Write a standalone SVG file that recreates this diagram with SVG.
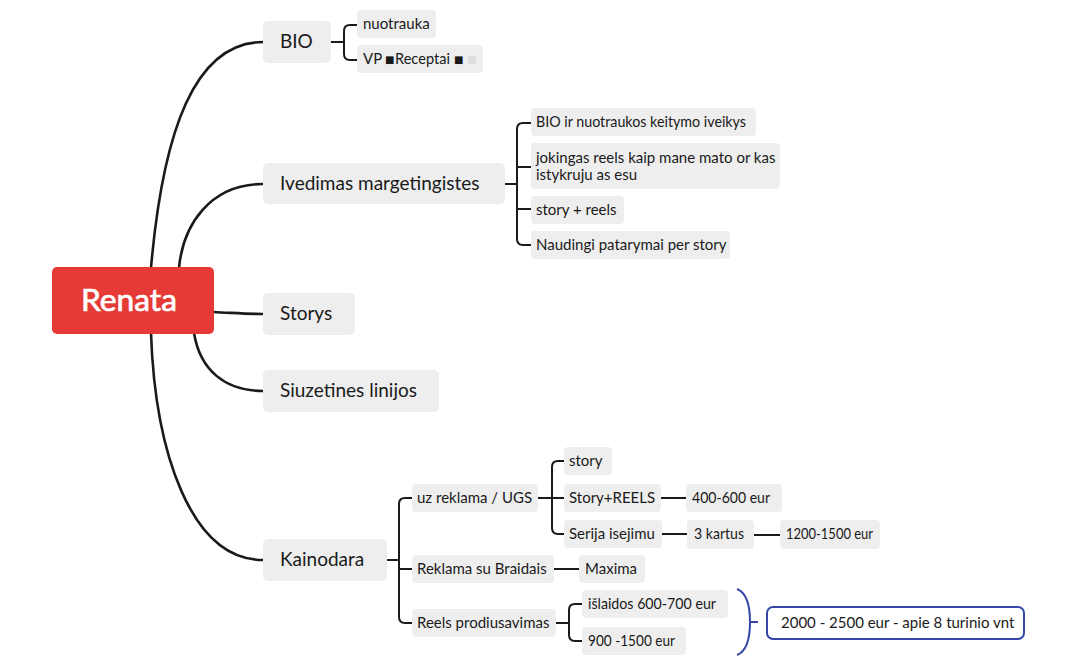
<svg xmlns="http://www.w3.org/2000/svg" width="1076" height="666" viewBox="0 0 1076 666">
<style>
  .n1 { fill: #EEEEEE; }
  .n2 { fill: #EEEEEE; }
  .t1 { font-family: Lato, "Noto Sans", sans-serif; font-size: 19px; fill: #1a1a1a; }
  .t2 { font-family: Lato, "Noto Sans", sans-serif; font-size: 15px; fill: #1a1a1a; }
  .c1 { fill: none; stroke: #1a1a1a; stroke-width: 2.6; stroke-linecap: round; }
  .c2 { fill: none; stroke: #1a1a1a; stroke-width: 2; }
  .sq { font-family: "DejaVu Sans", sans-serif; font-size: 10px; }
</style>
<rect width="1076" height="666" fill="#FFFFFF"/>

<g id="connectors">
  <path class="c1" d="M151,268 C163,130 195,42 263,42"/>
  <path class="c1" d="M179,268 C183,225 210,184 263,184"/>
  <path class="c1" d="M213,312 C235,313 245,314 263,314"/>
  <path class="c1" d="M194,333 C200,370 225,391 263,391"/>
  <path class="c1" d="M151,333 C155,450 190,560 263,560"/>
  <!-- BIO -->
  <path class="c2" d="M331,42 H344 M357,25 H350 Q344,25 344,31 V54 Q344,60 350,60 H357"/>
  <!-- Ivedimas -->
  <path class="c2" d="M505,184 H517 M531,123 H523 Q517,123 517,129 V239 Q517,245 523,245 H531 M517,167 H531 M517,209 H531"/>
  <!-- Kainodara -->
  <path class="c2" d="M387,560 H399 M412,498 H405 Q399,498 399,504 V617 Q399,623 405,623 H412 M399,569 H412"/>
  <!-- uz reklama -->
  <path class="c2" d="M538,498 H552 M564,461 H558 Q552,461 552,467 V528 Q552,534 558,534 H564 M552,498 H564"/>
  <path class="c2" d="M661,498 H686"/>
  <path class="c2" d="M662,534 H687"/>
  <path class="c2" d="M754,535 H780"/>
  <path class="c2" d="M554,569 H579"/>
  <!-- Reels prodiusavimas -->
  <path class="c2" d="M556,623 H569 M582,604 H575 Q569,604 569,610 V635 Q569,641 575,641 H582"/>
  <!-- summary brace -->
  <path d="M737,589 Q750,594 750,622 Q750,650 737,655 M750,622 H758" fill="none" stroke="#3446A6" stroke-width="2"/>
</g>

<g id="root">
  <rect x="52" y="267" width="162" height="67" rx="5" fill="#E53A36"/>
  <text x="129" y="311" text-anchor="middle" font-family="Lato, 'Noto Sans', sans-serif" font-size="30" fill="#FFFFFF" stroke="#FFFFFF" stroke-width="0.7" textLength="96" lengthAdjust="spacingAndGlyphs">Renata</text>
</g>

<g id="bio">
  <rect class="n1" x="263" y="21" width="68" height="42" rx="5"/>
  <text class="t1" x="280" y="48">BIO</text>
</g>
<g id="nuotrauka">
  <rect class="n2" x="357" y="10" width="79" height="28" rx="4"/>
  <text class="t2" x="363" y="29">nuotrauka</text>
</g>
<g id="vp-receptai">
  <rect class="n2" x="357" y="45" width="126" height="28" rx="4"/>
  <text class="t2" x="363" y="64">VP <tspan class="sq" x="385" y="63" fill="#1a1a1a">■</tspan><tspan x="395" y="64" textLength="55" lengthAdjust="spacingAndGlyphs">Receptai</tspan><tspan class="sq" x="454" y="63" fill="#1a1a1a">■</tspan><tspan class="sq" x="467" y="63" fill="#DDDDDD">■</tspan></text>
</g>

<g id="ivedimas">
  <rect class="n1" x="263" y="163" width="242" height="41" rx="5"/>
  <text class="t1" x="280" y="190">Ivedimas margetingistes</text>
</g>
<g id="bio-keitymas">
  <rect class="n2" x="531" y="108" width="225" height="28" rx="4"/>
  <text class="t2" x="536" y="127" textLength="210" lengthAdjust="spacingAndGlyphs">BIO ir nuotraukos keitymo iveikys</text>
</g>
<g id="jokingas">
  <rect class="n2" x="531" y="143" width="249" height="46" rx="4"/>
  <text class="t2" x="536" y="162.5">jokingas reels kaip mane mato or kas</text>
  <text class="t2" x="536" y="180">istykruju as esu</text>
</g>
<g id="story-reels">
  <rect class="n2" x="531" y="196" width="93" height="28" rx="4"/>
  <text class="t2" x="536" y="215">story + reels</text>
</g>
<g id="naudingi">
  <rect class="n2" x="531" y="231" width="199" height="28" rx="4"/>
  <text class="t2" x="536" y="250">Naudingi patarymai per story</text>
</g>

<g id="storys">
  <rect class="n1" x="263" y="293" width="92" height="42" rx="5"/>
  <text class="t1" x="280" y="320">Storys</text>
</g>

<g id="siuzetines">
  <rect class="n1" x="263" y="370" width="176" height="42" rx="5"/>
  <text class="t1" x="280" y="397">Siuzetines linijos</text>
</g>

<g id="kainodara">
  <rect class="n1" x="263" y="539" width="124" height="42" rx="5"/>
  <text class="t1" x="280" y="566">Kainodara</text>
</g>
<g id="uz-reklama">
  <rect class="n2" x="412" y="484" width="126" height="28" rx="4"/>
  <text class="t2" x="417" y="503">uz reklama / UGS</text>
</g>
<g id="story">
  <rect class="n2" x="564" y="447" width="48" height="28" rx="4"/>
  <text class="t2" x="569" y="466">story</text>
</g>
<g id="story-reels-caps">
  <rect class="n2" x="564" y="484" width="97" height="28" rx="4"/>
  <text class="t2" x="569" y="503">Story+REELS</text>
</g>
<g id="eur-400">
  <rect class="n2" x="686" y="484" width="96" height="28" rx="4"/>
  <text class="t2" x="692" y="503" textLength="78" lengthAdjust="spacingAndGlyphs">400-600 eur</text>
</g>
<g id="serija">
  <rect class="n2" x="564" y="520" width="98" height="28" rx="4"/>
  <text class="t2" x="569" y="539">Serija isejimu</text>
</g>
<g id="kartus">
  <rect class="n2" x="687" y="520" width="67" height="29" rx="4"/>
  <text class="t2" x="694" y="539" textLength="50" lengthAdjust="spacingAndGlyphs">3 kartus</text>
</g>
<g id="eur-1200">
  <rect class="n2" x="780" y="520" width="100" height="29" rx="4"/>
  <text class="t2" x="786" y="539" textLength="87" lengthAdjust="spacingAndGlyphs">1200-1500 eur</text>
</g>
<g id="reklama-braidais">
  <rect class="n2" x="412" y="555" width="142" height="28" rx="4"/>
  <text class="t2" x="417" y="574">Reklama su Braidais</text>
</g>
<g id="maxima">
  <rect class="n2" x="579" y="555" width="66" height="28" rx="4"/>
  <text class="t2" x="585" y="574">Maxima</text>
</g>
<g id="reels-prod">
  <rect class="n2" x="412" y="609" width="144" height="28" rx="4"/>
  <text class="t2" x="417" y="628">Reels prodiusavimas</text>
</g>
<g id="islaidos">
  <rect class="n2" x="582" y="590" width="146" height="28" rx="4"/>
  <text class="t2" x="588" y="609" textLength="128" lengthAdjust="spacingAndGlyphs">išlaidos 600-700 eur</text>
</g>
<g id="eur-900">
  <rect class="n2" x="582" y="627" width="104" height="28" rx="4"/>
  <text class="t2" x="588" y="646" textLength="87" lengthAdjust="spacingAndGlyphs">900 -1500 eur</text>
</g>
<g id="summary">
  <rect x="767" y="607" width="257" height="32" rx="6" fill="#FFFFFF" stroke="#3446A6" stroke-width="2"/>
  <text class="t2" x="781" y="628">2000 - 2500 eur - apie 8 turinio vnt</text>
</g>
</svg>
